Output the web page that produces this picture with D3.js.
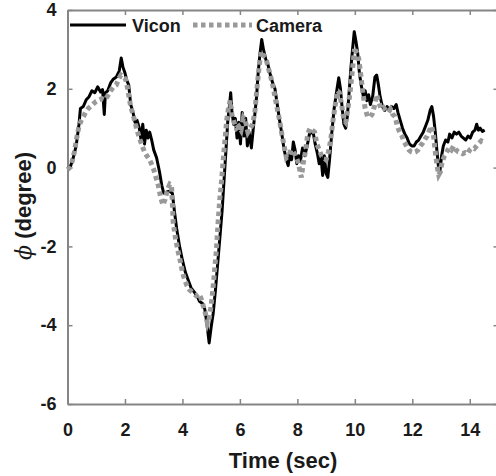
<!DOCTYPE html>
<html>
<head>
<meta charset="utf-8">
<script src="https://cdn.jsdelivr.net/npm/d3@7"></script>
<style>
    body { margin: 0; background: #fff; }
    svg { display: block; font-family: "Liberation Sans", Arial, sans-serif; }
</style>
</head>
<body>
<svg id="chart"></svg>
<script>
var width = 496;
var height = 476;

// Vicon (reference) trace
var viconTime = [0.00, 0.10, 0.20, 0.30, 0.40, 0.45, 0.55, 0.65, 0.75, 0.85, 0.95, 1.05, 1.15, 1.22, 1.28, 1.32, 1.40, 1.50, 1.60, 1.70,
    1.80, 1.87, 1.93, 2.00, 2.07, 2.13, 2.20, 2.28, 2.35, 2.42, 2.50, 2.56, 2.62, 2.68, 2.74, 2.80, 2.86, 2.93, 3.00, 3.10,
    3.20, 3.28, 3.35, 3.45, 3.55, 3.65, 3.72, 3.80, 3.90, 4.00, 4.10, 4.20, 4.30, 4.40, 4.50, 4.60, 4.70, 4.78, 4.85, 4.93,
    5.00, 5.07, 5.15, 5.22, 5.30, 5.38, 5.45, 5.52, 5.58, 5.64, 5.68, 5.72, 5.78, 5.84, 5.90, 5.96, 6.02, 6.08, 6.14, 6.20,
    6.26, 6.32, 6.40, 6.46, 6.52, 6.58, 6.64, 6.70, 6.76, 6.82, 6.90, 6.98, 7.06, 7.14, 7.22, 7.30, 7.38, 7.46, 7.54, 7.62,
    7.68, 7.74, 7.80, 7.86, 7.92, 7.98, 8.04, 8.10, 8.18, 8.26, 8.34, 8.42, 8.50, 8.56, 8.62, 8.70, 8.76, 8.82, 8.88, 8.94,
    9.00, 9.06, 9.12, 9.20, 9.28, 9.36, 9.44, 9.50, 9.56, 9.62, 9.68, 9.74, 9.80, 9.86, 9.92, 9.98, 10.04, 10.10, 10.16, 10.22,
    10.30, 10.36, 10.42, 10.48, 10.54, 10.62, 10.70, 10.76, 10.82, 10.88, 10.96, 11.04, 11.12, 11.20, 11.28, 11.36, 11.44, 11.50, 11.58, 11.66,
    11.74, 11.82, 11.90, 11.98, 12.06, 12.14, 12.22, 12.30, 12.38, 12.46, 12.54, 12.62, 12.68, 12.74, 12.80, 12.86, 12.92, 12.96, 13.02, 13.08,
    13.16, 13.24, 13.30, 13.38, 13.46, 13.54, 13.62, 13.70, 13.78, 13.86, 13.94, 14.02, 14.10, 14.18, 14.24, 14.30, 14.36, 14.44, 14.52];
var viconPhi = [0.00, 0.02, 0.25, 0.55, 1.10, 1.50, 1.55, 1.72, 1.80, 1.95, 1.90, 2.05, 1.92, 1.98, 1.35, 1.90, 1.95, 2.15, 2.25, 2.30,
    2.45, 2.78, 2.55, 2.40, 2.20, 2.10, 1.60, 1.40, 1.15, 1.20, 1.00, 0.70, 1.10, 0.60, 0.95, 0.75, 0.90, 0.70, 0.45, 0.25,
    -0.10, -0.45, -0.65, -0.62, -0.60, -0.65, -1.10, -1.55, -2.00, -2.35, -2.65, -2.85, -3.05, -3.15, -3.25, -3.40, -3.45, -3.60, -3.95, -4.45,
    -4.05, -3.70, -3.10, -2.50, -1.80, -1.10, -0.30, 0.50, 1.20, 1.60, 1.90, 1.45, 1.10, 1.25, 0.75, 1.15, 0.60, 1.40, 0.80, 1.25,
    0.55, 0.90, 0.50, 0.95, 1.35, 1.80, 2.45, 2.90, 3.25, 3.00, 2.75, 2.60, 2.35, 2.15, 2.00, 1.60, 1.20, 0.85, 0.45, 0.20,
    0.05, 0.35, 0.20, 0.65, 0.45, 0.10, 0.30, 0.15, 0.50, 0.30, 0.55, 0.85, 0.90, 0.85, 0.60, 0.35, 0.10, 0.30, -0.20, 0.30,
    -0.15, -0.25, 0.20, 0.90, 1.50, 1.90, 2.28, 2.00, 1.50, 1.10, 1.00, 1.30, 1.90, 2.50, 3.00, 3.45, 3.20, 2.90, 2.40, 2.10,
    1.80, 1.95, 1.70, 1.85, 1.60, 1.80, 2.30, 2.35, 2.10, 1.80, 1.55, 1.45, 1.55, 1.45, 1.55, 1.50, 1.60, 1.40, 1.20, 1.00,
    0.85, 0.75, 0.60, 0.55, 0.55, 0.65, 0.70, 0.80, 0.90, 1.05, 1.20, 1.45, 1.55, 1.30, 0.90, 0.40, -0.05, -0.10, 0.30, 0.55,
    0.70, 0.65, 0.85, 0.75, 0.90, 0.85, 0.90, 0.80, 0.75, 0.70, 0.80, 0.75, 0.90, 0.95, 1.10, 0.95, 1.00, 0.92, 0.95];

// Camera estimate trace
var cameraTime = [0.00, 0.08, 0.16, 0.24, 0.32, 0.40, 0.48, 0.56, 0.64, 0.72, 0.80, 0.90, 1.00, 1.10, 1.20, 1.30, 1.40, 1.50, 1.60, 1.70,
    1.78, 1.86, 1.94, 2.02, 2.08, 2.14, 2.20, 2.28, 2.36, 2.44, 2.52, 2.60, 2.68, 2.76, 2.84, 2.92, 3.00, 3.08, 3.16, 3.24,
    3.32, 3.40, 3.48, 3.56, 3.62, 3.68, 3.76, 3.84, 3.92, 4.00, 4.08, 4.16, 4.24, 4.32, 4.40, 4.48, 4.56, 4.64, 4.72, 4.80,
    4.87, 4.94, 5.00, 5.06, 5.12, 5.18, 5.24, 5.30, 5.36, 5.42, 5.48, 5.54, 5.60, 5.66, 5.72, 5.80, 5.88, 5.96, 6.04, 6.12,
    6.20, 6.28, 6.36, 6.44, 6.52, 6.58, 6.64, 6.70, 6.76, 6.82, 6.90, 6.98, 7.06, 7.14, 7.22, 7.30, 7.38, 7.46, 7.54, 7.62,
    7.70, 7.78, 7.86, 7.94, 8.02, 8.08, 8.14, 8.20, 8.28, 8.36, 8.44, 8.52, 8.60, 8.68, 8.76, 8.84, 8.92, 9.00, 9.08, 9.16,
    9.24, 9.32, 9.40, 9.46, 9.54, 9.62, 9.68, 9.76, 9.84, 9.92, 9.98, 10.04, 10.12, 10.20, 10.28, 10.36, 10.44, 10.52, 10.60, 10.68,
    10.76, 10.84, 10.92, 11.00, 11.08, 11.16, 11.24, 11.32, 11.40, 11.48, 11.56, 11.64, 11.72, 11.80, 11.88, 11.96, 12.04, 12.12, 12.20, 12.28,
    12.36, 12.44, 12.52, 12.60, 12.68, 12.74, 12.80, 12.86, 12.92, 12.98, 13.04, 13.12, 13.20, 13.28, 13.36, 13.44, 13.52, 13.60, 13.68, 13.76,
    13.84, 13.92, 14.00, 14.08, 14.16, 14.24, 14.32, 14.40, 14.48, 14.55];
var cameraPhi = [-0.05, 0.00, 0.15, 0.40, 0.75, 1.05, 1.20, 1.30, 1.42, 1.50, 1.55, 1.62, 1.68, 1.72, 1.75, 1.72, 1.82, 1.95, 2.05, 2.10,
    2.25, 2.35, 2.30, 2.25, 2.05, 1.80, 1.55, 1.35, 1.12, 0.90, 0.72, 0.55, 0.40, 0.30, 0.22, 0.10, -0.05, -0.25, -0.45, -0.75,
    -0.95, -0.80, -0.55, -0.42, -0.45, -1.40, -1.80, -2.10, -2.35, -2.65, -2.85, -3.00, -3.10, -3.15, -3.20, -3.25, -3.20, -3.30, -3.50, -3.70,
    -3.95, -3.80, -3.50, -3.10, -2.60, -2.10, -1.40, -0.80, -0.35, 0.20, 0.70, 1.20, 1.50, 1.70, 1.35, 1.15, 1.00, 1.05, 0.95, 1.25,
    1.15, 0.90, 1.00, 1.10, 1.40, 1.90, 2.35, 2.75, 2.95, 2.85, 2.80, 2.55, 2.35, 2.10, 1.80, 1.50, 1.20, 0.85, 0.55, 0.25,
    0.30, 0.45, 0.40, 0.30, 0.15, -0.05, -0.25, 0.10, 0.40, 0.85, 1.00, 0.95, 0.90, 0.60, 0.45, 0.30, 0.25, 0.20, 0.40, 0.70,
    1.20, 1.60, 1.95, 1.90, 1.60, 1.20, 1.15, 1.50, 1.95, 2.50, 2.95, 2.95, 2.85, 2.40, 1.90, 1.50, 1.30, 1.28, 1.35, 1.55,
    1.85, 1.65, 1.48, 1.52, 1.45, 1.40, 1.48, 1.35, 1.30, 1.05, 0.90, 0.80, 0.65, 0.55, 0.45, 0.40, 0.38, 0.40, 0.45, 0.55,
    0.62, 0.72, 0.80, 0.95, 1.05, 0.80, 0.40, 0.05, -0.18, -0.10, 0.15, 0.30, 0.40, 0.50, 0.45, 0.55, 0.45, 0.40, 0.38, 0.35,
    0.38, 0.35, 0.45, 0.50, 0.48, 0.55, 0.62, 0.68, 0.65, 0.62];

var xTicks = [0, 2, 4, 6, 8, 10, 12, 14];
var yTicks = [-6, -4, -2, 0, 2, 4];

var svg = d3.select("#chart")
    .attr("width", width)
    .attr("height", height);

var x = d3.scaleLinear().domain([0, 15]).range([67.5, 498.5]);
var y = d3.scaleLinear().domain([-6, 4]).range([404, 10]);

var axisColor = "#858585";
var textColor = "#1a1a1a";

function pairs(ts, vs) {
    var out = [];
    for (var i = 0; i < ts.length; i++) {
        out.push([ts[i], vs[i]]);
    }
    return out;
}

var line = d3.line()
    .x(function (d) { return x(d[0]); })
    .y(function (d) { return y(d[1]); });

// box + inward ticks on all four sides, MATLAB style
var axBottom = svg.append("g")
    .attr("transform", "translate(0," + y(-6) + ")")
    .call(d3.axisBottom(x).tickValues(xTicks).tickSizeInner(-5).tickSizeOuter(0).tickPadding(19));
var axTop = svg.append("g")
    .attr("transform", "translate(0," + y(4) + ")")
    .call(d3.axisTop(x).tickValues(xTicks).tickSizeInner(-5).tickSizeOuter(0).tickFormat(""));
var axLeft = svg.append("g")
    .attr("transform", "translate(" + x(0) + ",0)")
    .call(d3.axisLeft(y).tickValues(yTicks).tickSizeInner(-5).tickSizeOuter(0).tickPadding(11));
var axRight = svg.append("g")
    .attr("transform", "translate(" + x(15) + ",0)")
    .call(d3.axisRight(y).tickValues(yTicks).tickSizeInner(-5).tickSizeOuter(0).tickFormat(""));

[axBottom, axTop, axLeft, axRight].forEach(function (g) {
    g.select(".domain").attr("stroke", axisColor).attr("stroke-width", 2);
    g.selectAll(".tick line").attr("stroke", axisColor).attr("stroke-width", 1.5);
    g.selectAll(".tick text")
        .attr("fill", textColor)
        .attr("font-size", "18px")
        .attr("font-weight", "bold");
});

// plain hyphen minus like the original figure
axLeft.selectAll(".tick text").text(function (d) { return String(d); });

// data lines
svg.append("path")
    .datum(pairs(viconTime, viconPhi))
    .attr("fill", "none")
    .attr("stroke", "#000")
    .attr("stroke-width", 3)
    .attr("stroke-linejoin", "round")
    .attr("d", line);

svg.append("path")
    .datum(pairs(cameraTime, cameraPhi))
    .attr("fill", "none")
    .attr("stroke", "#999")
    .attr("stroke-width", 5)
    .attr("stroke-dasharray", "4.5,3.5")
    .attr("d", line);

// legend
var legend = svg.append("g");
legend.append("line")
    .attr("x1", 70).attr("x2", 126)
    .attr("y1", 25).attr("y2", 25)
    .attr("stroke", "#000")
    .attr("stroke-width", 3);
legend.append("text")
    .attr("x", 132).attr("y", 32)
    .attr("font-size", "18px")
    .attr("font-weight", "bold")
    .attr("fill", textColor)
    .text("Vicon");
legend.append("line")
    .attr("x1", 193).attr("x2", 252)
    .attr("y1", 25).attr("y2", 25)
    .attr("stroke", "#999")
    .attr("stroke-width", 5)
    .attr("stroke-dasharray", "4.5,3.5");
legend.append("text")
    .attr("x", 256).attr("y", 32)
    .attr("font-size", "18px")
    .attr("font-weight", "bold")
    .attr("fill", textColor)
    .text("Camera");

// axis titles
svg.append("text")
    .attr("x", 283)
    .attr("y", 468)
    .attr("text-anchor", "middle")
    .attr("font-size", "22px")
    .attr("font-weight", "bold")
    .attr("fill", textColor)
    .text("Time (sec)");

var yTitle = svg.append("text")
    .attr("transform", "translate(31,206) rotate(-90)")
    .attr("text-anchor", "middle")
    .attr("font-size", "22px")
    .attr("font-weight", "bold")
    .attr("fill", textColor);
yTitle.append("tspan")
    .attr("font-family", "DejaVu Serif, serif")
    .attr("font-style", "italic")
    .attr("font-weight", "normal")
    .text("\u03D5");
yTitle.append("tspan").text(" (degree)");
</script>
</body>
</html>
